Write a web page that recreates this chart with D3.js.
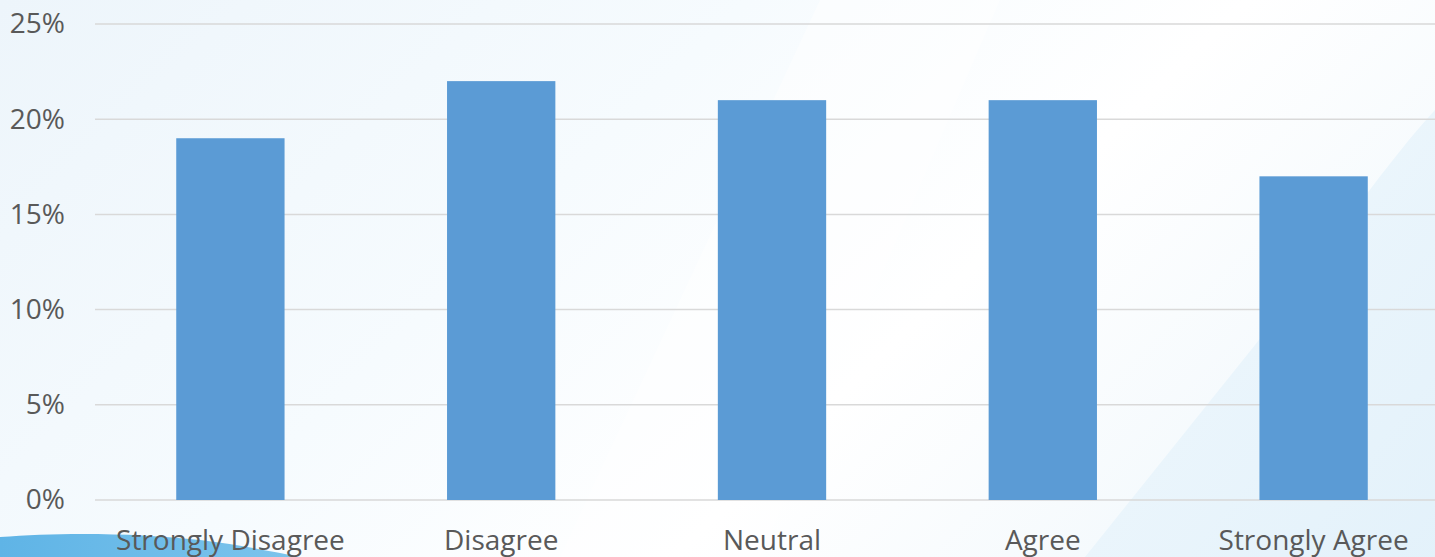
<!DOCTYPE html>
<html>
<head>
<meta charset="utf-8">
<script src="https://cdn.jsdelivr.net/npm/d3@7"></script>
<style>
  html, body { margin: 0; padding: 0; overflow: hidden; }
  body { width: 1435px; height: 557px; }
  text { font-family: "Open Sans", "Noto Sans", sans-serif; fill: #595959; }
</style>
</head>
<body>
<svg id="chart" width="1435" height="557"></svg>
<script>
// chart data
var categories = ["Strongly Disagree", "Disagree", "Neutral", "Agree", "Strongly Agree"];
var values = [19, 22, 21, 21, 17];
var yTicks = [0, 5, 10, 15, 20, 25];

var width = 1435, height = 557;
var margin = { top: 24, right: -14, bottom: 57, left: 95 };

var svg = d3.select("#chart");

// --- background (soft blue slide style) ---
var defs = svg.append("defs");
var bg = defs.append("linearGradient").attr("id", "bg")
  .attr("x1", "0").attr("y1", "0").attr("x2", "1").attr("y2", "0.4");
bg.append("stop").attr("offset", "0%").attr("stop-color", "#edf5fb");
bg.append("stop").attr("offset", "45%").attr("stop-color", "#f6fbfe");
bg.append("stop").attr("offset", "75%").attr("stop-color", "#ffffff");
bg.append("stop").attr("offset", "100%").attr("stop-color", "#f5fafd");

var corner = defs.append("linearGradient").attr("id", "corner")
  .attr("x1", "0").attr("y1", "0").attr("x2", "1").attr("y2", "1");
corner.append("stop").attr("offset", "0%").attr("stop-color", "#f0f8fd");
corner.append("stop").attr("offset", "100%").attr("stop-color", "#e0f0fa");

var swoosh = defs.append("linearGradient").attr("id", "swoosh")
  .attr("x1", "0").attr("y1", "0").attr("x2", "1").attr("y2", "0");
swoosh.append("stop").attr("offset", "0%").attr("stop-color", "#5fb4e6");
swoosh.append("stop").attr("offset", "100%").attr("stop-color", "#7cc4ec");

svg.append("rect").attr("width", width).attr("height", height).attr("fill", "url(#bg)");

// faint white diagonal band through the middle
svg.append("path")
  .attr("d", "M560,557 L820,0 L1000,0 L760,557 Z")
  .attr("fill", "#ffffff").attr("opacity", 0.45);

// light blue wedge in the lower right
svg.append("path")
  .attr("d", "M1085,557 L1255,345 C1320,260 1380,170 1435,110 L1435,557 Z")
  .attr("fill", "url(#corner)").attr("opacity", 0.85);

// blue swoosh bottom left
svg.append("path")
  .attr("d", "M0,537 C60,532 140,533 200,540 C240,545 270,551 300,557 L0,557 Z")
  .attr("fill", "url(#swoosh)");

// --- scales ---
var x = d3.scaleBand()
  .domain(categories)
  .range([margin.left, width - margin.right])
  .paddingInner(0.6)
  .paddingOuter(0.3);

var y = d3.scaleLinear()
  .domain([0, 25])
  .range([height - margin.bottom, margin.top]);

// gridlines
svg.append("g")
  .selectAll("line")
  .data(yTicks)
  .join("line")
  .attr("x1", margin.left)
  .attr("x2", width)
  .attr("y1", function(d) { return y(d); })
  .attr("y2", function(d) { return y(d); })
  .attr("stroke", "#d9d9d9")
  .attr("stroke-width", 1.5);

// y axis labels
var yAxis = d3.axisLeft(y)
  .tickValues(yTicks)
  .tickFormat(function(d) { return d + "%"; })
  .tickSize(0)
  .tickPadding(0);

svg.append("g")
  .attr("transform", "translate(65,0)")
  .call(yAxis)
  .call(function(g) { g.select(".domain").remove(); })
  .selectAll("text")
  .attr("font-size", "28px")
  .attr("font-family", null)
  .style("fill", "#595959");

// bars
svg.append("g")
  .selectAll("rect")
  .data(values)
  .join("rect")
  .attr("x", function(d, i) { return x(categories[i]); })
  .attr("width", x.bandwidth())
  .attr("y", function(d) { return y(d); })
  .attr("height", function(d) { return y(0) - y(d); })
  .attr("fill", "#5b9bd5");

// x axis labels (baseline near the bottom edge, as in the original)
var xAxis = d3.axisBottom(x).tickSize(0).tickPadding(0);
svg.append("g")
  .attr("transform", "translate(0,550)")
  .call(xAxis)
  .call(function(g) { g.select(".domain").remove(); })
  .selectAll("text")
  .attr("font-size", "28px")
  .attr("font-family", null)
  .attr("y", 0)
  .attr("dy", 0)
  .style("fill", "#595959");
</script>
</body>
</html>
